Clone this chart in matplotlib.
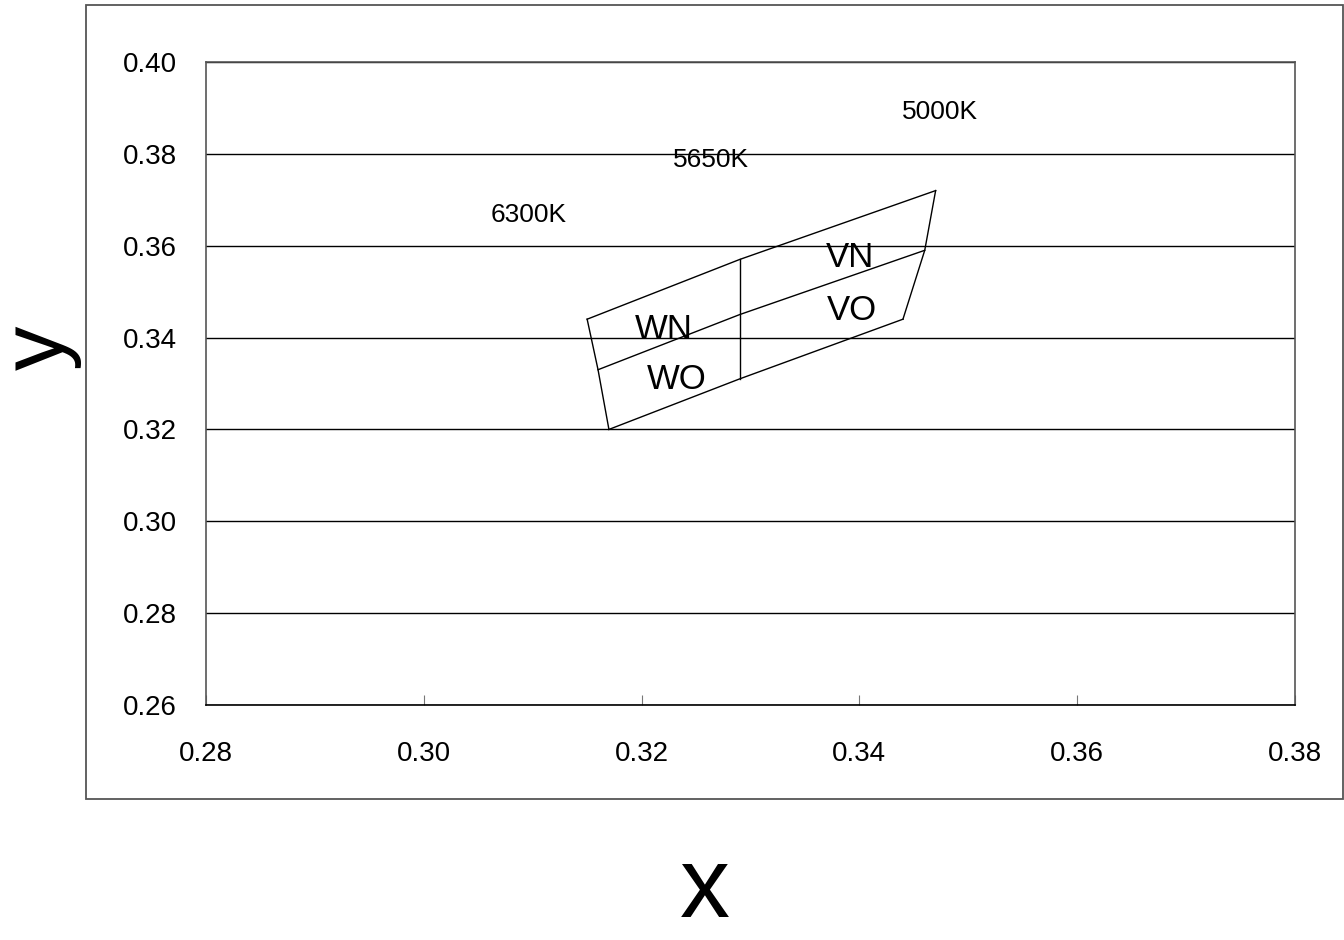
import matplotlib.pyplot as plt
from matplotlib.patches import Rectangle

plt.rcParams["font.family"] = ["Liberation Sans", "DejaVu Sans"]

# bordes del cuadrilatero (x, y)
top_x = [0.315, 0.329, 0.347]
top_y = [0.344, 0.357, 0.372]
mid_x = [0.316, 0.329, 0.346]
mid_y = [0.333, 0.345, 0.359]
bot_x = [0.317, 0.329, 0.344]
bot_y = [0.320, 0.331, 0.344]

bin_labels = ["WN", "WO", "VN", "VO"]
bin_x = [0.3220, 0.3232, 0.3391, 0.3393]
bin_y = [0.3417, 0.3309, 0.3574, 0.3459]

cct_labels = ["6300K", "5650K", "5000K"]
cct_x = [0.3096, 0.3264, 0.3474]
cct_y = [0.3667, 0.3787, 0.3891]

xticks = [0.28, 0.30, 0.32, 0.34, 0.36, 0.38]
yticks = [0.26, 0.28, 0.30, 0.32, 0.34, 0.36, 0.38, 0.40]

W, H = 1344, 940
fig = plt.figure(figsize=(W / 100, H / 100), dpi=100)
ax = fig.add_axes([206 / W, 1 - 705 / H, (1295 - 206) / W, (705 - 62) / H])

# marco exterior (area del grafico)
fig.patches.append(Rectangle((86 / W, 1 - 799 / H), (1343 - 86) / W, (799 - 5) / H,
                             transform=fig.transFigure, fill=False,
                             edgecolor="#555555", linewidth=1.3))

lw = 1.0
ax.plot(top_x, top_y, color="black", linewidth=lw)
ax.plot(mid_x, mid_y, color="black", linewidth=lw)
ax.plot(bot_x, bot_y, color="black", linewidth=lw)
ax.plot([top_x[0], mid_x[0], bot_x[0]], [top_y[0], mid_y[0], bot_y[0]], color="black", linewidth=lw)
ax.plot([top_x[2], mid_x[2], bot_x[2]], [top_y[2], mid_y[2], bot_y[2]], color="black", linewidth=lw)
ax.plot([top_x[1], bot_x[1]], [top_y[1], bot_y[1]], color="black", linewidth=lw)

for lab, x, y in zip(bin_labels, bin_x, bin_y):
    ax.text(x, y, lab, fontsize=25, ha="center", va="center")
for lab, x, y in zip(cct_labels, cct_x, cct_y):
    ax.text(x, y, lab, fontsize=19, ha="center", va="center")

ax.set_xlim(0.28, 0.38)
ax.set_ylim(0.26, 0.40)
ax.set_xticks(xticks)
ax.set_yticks(yticks)
ax.set_xticklabels([f"{v:.2f}" for v in xticks])
ax.set_yticklabels([f"{v:.2f}" for v in yticks])
ax.grid(axis="y", color="black", linewidth=1.0)
ax.set_axisbelow(True)
ax.tick_params(axis="x", direction="in", length=7, color="#777777", labelsize=20, pad=26)
ax.tick_params(axis="y", length=0, labelsize=20, pad=21)

for side in ["left", "top", "right"]:
    ax.spines[side].set_color("#555555")
    ax.spines[side].set_linewidth(1.2)
ax.spines["bottom"].set_color("black")
ax.spines["bottom"].set_linewidth(1.2)

fig.text(40 / W, 1 - 348 / H, "y", fontsize=64, rotation=90, ha="center", va="center")
fig.text(705 / W, 1 - 938 / H, "x", fontsize=72, ha="center", va="bottom")

fig.savefig("out.png", dpi=100)
